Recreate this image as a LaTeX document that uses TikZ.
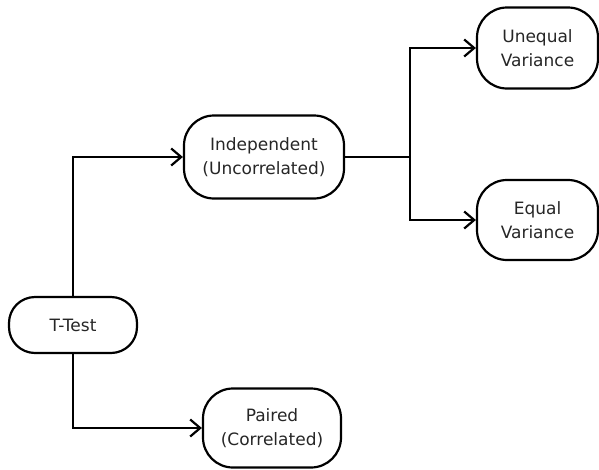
\documentclass[tikz,border=0pt]{standalone}
\usepackage{fontspec}
\setmainfont{DejaVu Sans}
\usetikzlibrary{arrows.meta}
\begin{document}
\begin{tikzpicture}[x=1pt,y=-1pt,
  box/.style={draw=black,line width=2.2pt,rounded corners=30pt,align=center,
    inner sep=0pt,text=black!85,font=\fontsize{17}{24}\selectfont},
  conn/.style={line width=2.2pt,-{Straight Barb[length=10pt,width=17pt,line width=2.2pt]}}]
\useasboundingbox (0,0) rectangle (599,469);
\node[box,minimum width=128pt,minimum height=56pt,rounded corners=26pt] (ttest) at (73,325) {T-Test};
\node[box,minimum width=160pt,minimum height=83pt] (indep) at (264,157) {Independent\\(Uncorrelated)};
\node[box,minimum width=138pt,minimum height=79pt] (paired) at (272,428) {Paired\\(Correlated)};
\node[box,minimum width=121pt,minimum height=81pt] (uneq) at (537.5,48) {Unequal\\Variance};
\node[box,minimum width=121pt,minimum height=80pt] (eq) at (537.5,220) {Equal\\Variance};
\coordinate (junc) at (410,157);
\draw[conn] (ttest.north) |- (indep.west);
\draw[conn] (ttest.south) |- (paired.west);
\draw[line width=2.2pt] (indep.east) -- (junc);
\draw[conn] (junc) |- (uneq.west);
\draw[conn] (junc) |- (eq.west);
\end{tikzpicture}
\end{document}
